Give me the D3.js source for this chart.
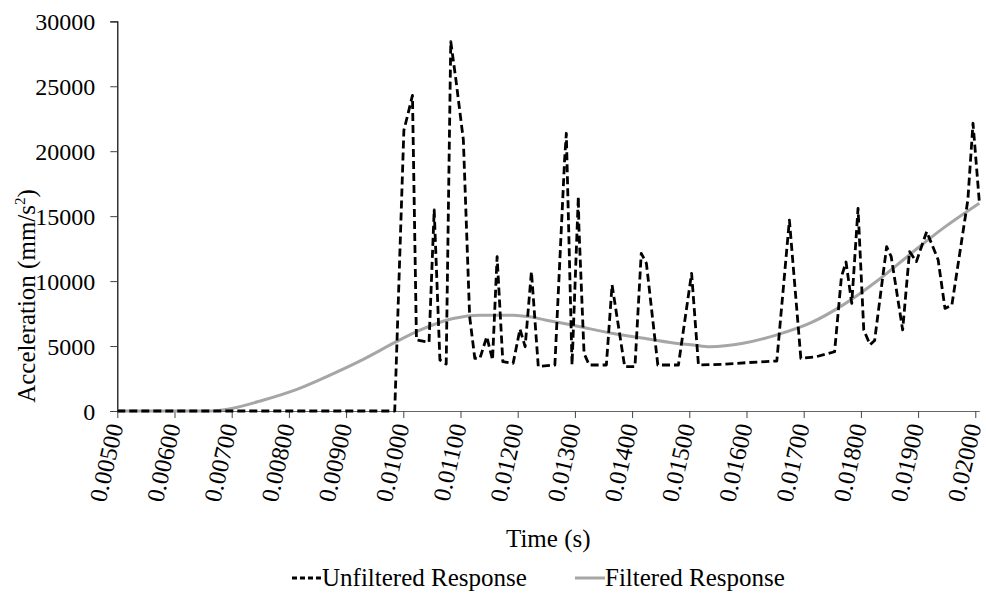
<!DOCTYPE html>
<html>
<head>
<meta charset="utf-8">
<script src="https://cdn.jsdelivr.net/npm/d3@7"></script>
<style>
  body { margin: 0; background: #fff; }
  svg { display: block; font-family: "Liberation Serif", "Times New Roman", serif; }
</style>
</head>
<body>
<svg id="chart" width="986" height="593"></svg>
<script>
// Unfiltered response: time (s), acceleration (mm/s^2)
const unfilteredTime = [0.00500, 0.00985, 0.01001, 0.01010, 0.01016, 0.01023, 0.01045, 0.01054, 0.01064, 0.01075,
  0.01083, 0.01092, 0.01105, 0.01116, 0.01125, 0.01134, 0.01146, 0.01156, 0.01164, 0.01174,
  0.01192, 0.01204, 0.01213, 0.01224, 0.01236, 0.01265, 0.01282, 0.01285, 0.01295, 0.01306,
  0.01307, 0.01316, 0.01325, 0.01355, 0.01365, 0.01387, 0.01405, 0.01416, 0.01425, 0.01445,
  0.01481, 0.01504, 0.01516, 0.01560, 0.01600, 0.01653, 0.01675, 0.01695, 0.01722, 0.01754,
  0.01766, 0.01774, 0.01784, 0.01795, 0.01805, 0.01816, 0.01824, 0.01845, 0.01853, 0.01873,
  0.01885, 0.01897, 0.01915, 0.01935, 0.01947, 0.01959, 0.01987, 0.01996, 0.02007];
const unfilteredAccel = [0, 0, 21600, 23200, 24300, 5470, 5300, 15480, 3930, 3620,
  28440, 25490, 20870, 7260, 4060, 4060, 5720, 3930, 11880, 3800,
  3670, 6300, 4950, 10730, 3420, 3540, 19330, 21380, 3550, 16500,
  14190, 4440, 3540, 3540, 9700, 3420, 3420, 12140, 11370, 3540,
  3540, 10600, 3540, 3600, 3720, 3850, 14700, 4060, 4180, 4560,
  10340, 11470, 8290, 15600, 6240, 5100, 5430, 12650, 11880, 6240,
  12270, 11500, 13810, 11650, 7900, 8140, 16250, 22150, 16120];

// Filtered response
const filteredTime = [0.00500, 0.00663, 0.00700, 0.00756, 0.00814, 0.00872, 0.00930, 0.00988, 0.01029, 0.01087,
  0.01134, 0.01192, 0.01221, 0.01250, 0.01297, 0.01367, 0.01425, 0.01483, 0.01507, 0.01536,
  0.01594, 0.01653, 0.01711, 0.01769, 0.01827, 0.01885, 0.01944, 0.02007];
const filteredAccel = [0, 0, 200, 850, 1670, 2770, 3980, 5340, 6220, 7120,
  7380, 7380, 7250, 6990, 6600, 5960, 5570, 5180, 5080, 4950,
  5210, 5860, 6760, 8170, 9970, 12030, 14080, 16000];

const xTickValues = [0.005, 0.006, 0.007, 0.008, 0.009, 0.010, 0.011, 0.012, 0.013, 0.014, 0.015, 0.016, 0.017, 0.018, 0.019, 0.020];
const yTickValues = [0, 5000, 10000, 15000, 20000, 25000, 30000];
const seriesNames = ["Unfiltered Response", "Filtered Response"];
const xTitle = "Time (s)";

const svg = d3.select("#chart");
svg.append("rect").attr("width", 986).attr("height", 593).attr("fill", "#fff");

const x = d3.scaleLinear().domain([0.005, 0.02007]).range([117.3, 979.3]);
const y = d3.scaleLinear().domain([0, 30000]).range([411, 21.3]);

const serif = "Liberation Serif, Times New Roman, serif";

// Y axis
const yAxis = svg.append("g").attr("transform", `translate(${x.range()[0]},0)`)
  .call(d3.axisLeft(y).tickValues(yTickValues).tickSize(7).tickPadding(15).tickFormat(d3.format("d")));
yAxis.select(".domain").attr("stroke", "#000").attr("stroke-width", 1.2);
yAxis.selectAll(".tick line").attr("stroke", "#444");
yAxis.selectAll(".tick text").attr("font-size", 24).attr("fill", "#000")
  .attr("font-family", serif).attr("dy", "0.36em");

// X axis
const xAxis = svg.append("g").attr("transform", `translate(0,${y(0)})`)
  .call(d3.axisBottom(x).tickValues(xTickValues).tickSize(7).tickSizeOuter(0).tickFormat(d => d.toFixed(5)));
xAxis.select(".domain").attr("stroke", "#666").attr("stroke-width", 1.2);
xAxis.selectAll(".tick line").attr("stroke", "#444");
xAxis.selectAll(".tick text")
  .attr("font-size", 24.5).attr("fill", "#000")
  .attr("font-family", serif)
  .attr("text-anchor", "end")
  .attr("dy", "0.32em")
  .attr("y", 0)
  .attr("transform", "translate(-2,13) rotate(-77)");

// Lines
const filteredData = filteredTime.map((t, i) => [t, filteredAccel[i]]);
const unfilteredData = unfilteredTime.map((t, i) => [t, unfilteredAccel[i]]);

svg.append("path").datum(filteredData)
  .attr("d", d3.line().x(d => x(d[0])).y(d => y(d[1])).curve(d3.curveMonotoneX))
  .attr("fill", "none").attr("stroke", "#a6a6a6").attr("stroke-width", 3);

svg.append("path").datum(unfilteredData)
  .attr("d", d3.line().x(d => x(d[0])).y(d => y(d[1])))
  .attr("fill", "none").attr("stroke", "#000").attr("stroke-width", 2.8)
  .attr("stroke-dasharray", "8,4").attr("stroke-linejoin", "round");

// Y title
const yTitle = svg.append("text")
  .attr("transform", "translate(35,296) rotate(-90)")
  .attr("text-anchor", "middle").attr("font-size", 25).attr("fill", "#000");
yTitle.append("tspan").text("Acceleration (mm/s");
yTitle.append("tspan").attr("font-size", 15).attr("dy", -10).text("2");
yTitle.append("tspan").attr("dy", 10).text(")");

// X title
svg.append("text").attr("x", (x.range()[0] + x.range()[1]) / 2).attr("y", 547)
  .attr("text-anchor", "middle").attr("font-size", 25).attr("fill", "#000").text(xTitle);

// Legend
const legend = svg.append("g").attr("transform", "translate(292,578)");
legend.append("line").attr("x1", 0).attr("x2", 30).attr("y1", 0).attr("y2", 0)
  .attr("stroke", "#000").attr("stroke-width", 2.8).attr("stroke-dasharray", "5,3");
legend.append("text").attr("x", 30).attr("y", 8).attr("font-size", 25).attr("fill", "#000").text(seriesNames[0]);
legend.append("line").attr("x1", 283).attr("x2", 313).attr("y1", 0).attr("y2", 0)
  .attr("stroke", "#a6a6a6").attr("stroke-width", 3);
legend.append("text").attr("x", 313).attr("y", 8).attr("font-size", 25).attr("fill", "#000").text(seriesNames[1]);
</script>
</body>
</html>
